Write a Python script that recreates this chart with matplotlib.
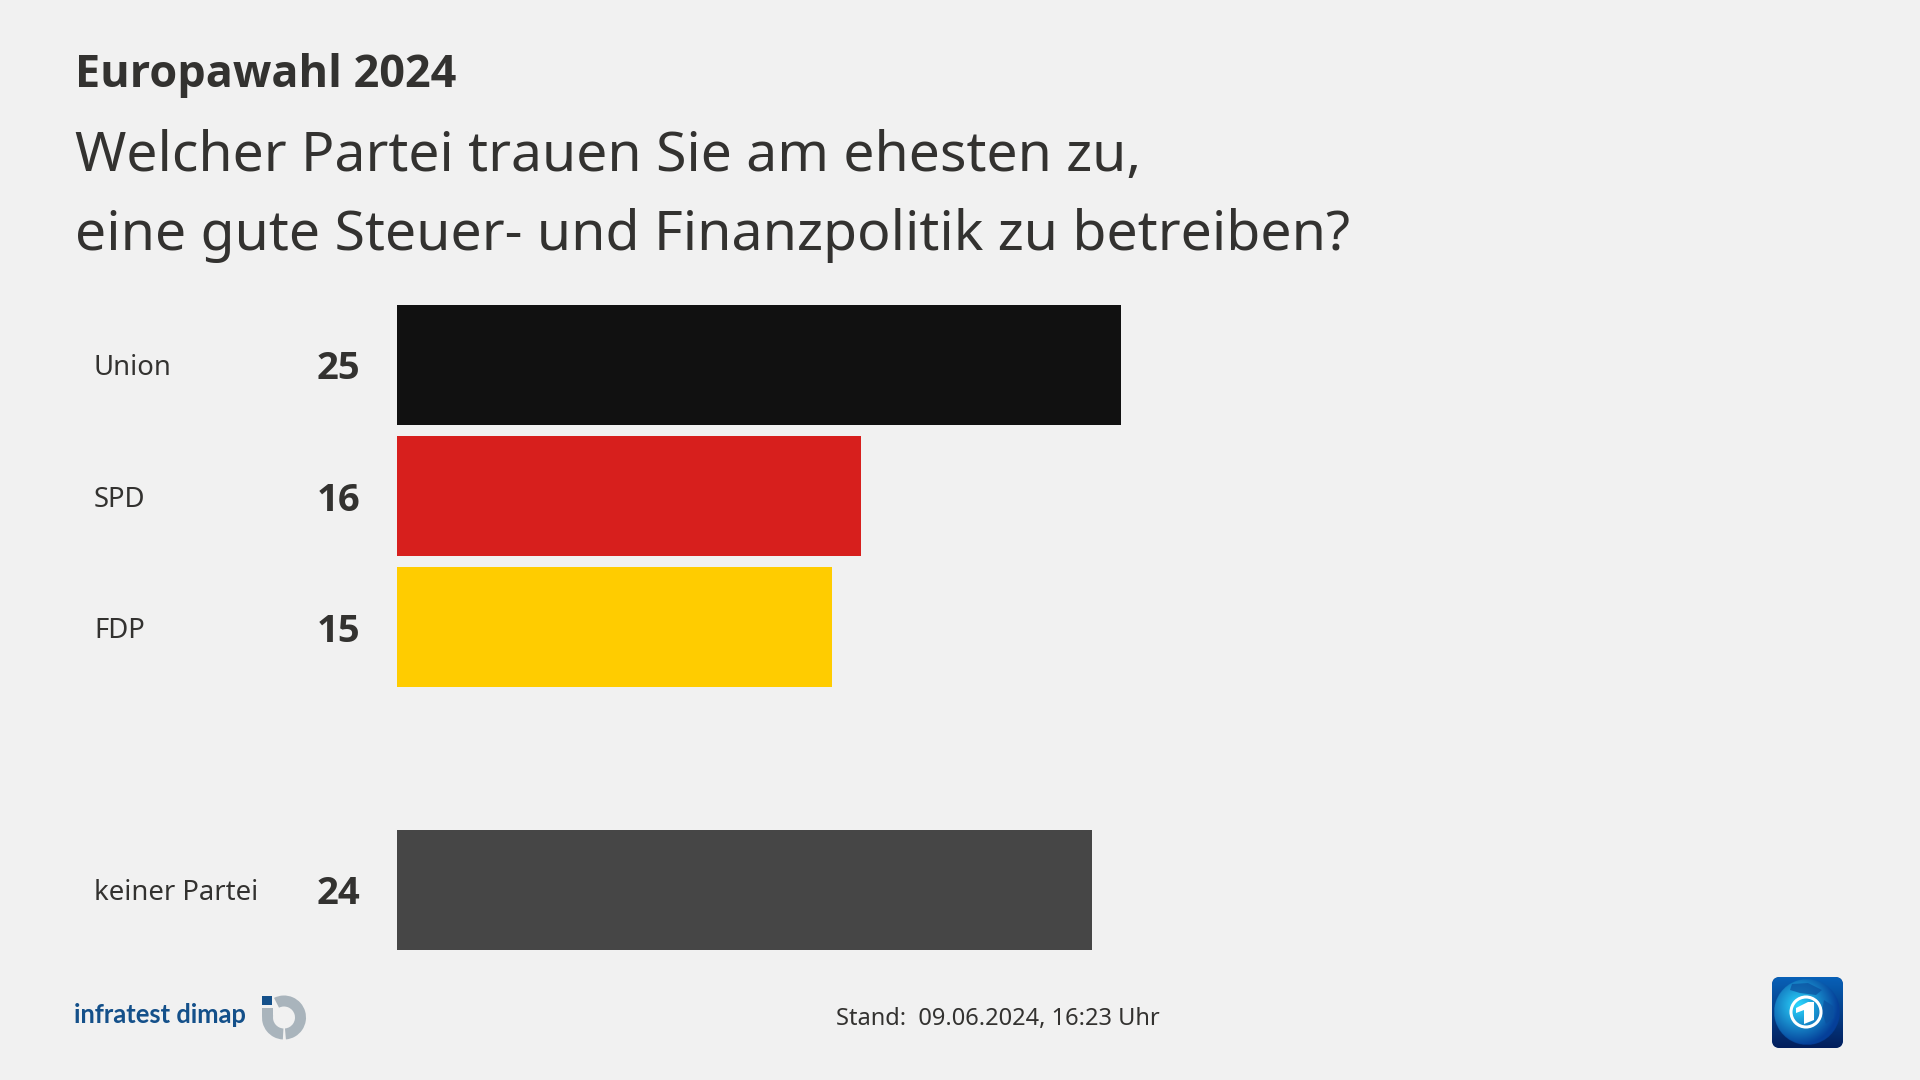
import numpy as np
import matplotlib
matplotlib.use('Agg')
import matplotlib.pyplot as plt
from matplotlib.patches import Wedge, Rectangle, FancyBboxPatch, Circle, Polygon

plt.rcParams['font.family'] = ['Noto Sans', 'DejaVu Sans']

parties = ['Union', 'SPD', 'FDP', 'keiner Partei']
values = [25, 16, 15, 24]
slots = [0, 1, 2, 4]
colors = ['#111111', '#d71f1d', '#ffcc00', '#464646']

kicker = 'Europawahl 2024'
title_lines = ['Welcher Partei trauen Sie am ehesten zu,',
               'eine gute Steuer- und Finanzpolitik zu betreiben?']
stand = 'Stand:  09.06.2024, 16:23 Uhr'

BG = '#f1f1f1'
TEXT = '#333230'
BOLD = ['Open Sans', 'DejaVu Sans']
W, H = 1920, 1080
PX = 0.72  # px to points at dpi 100

fig = plt.figure(figsize=(19.2, 10.8), dpi=100, facecolor=BG)

# overlay in pixel coordinates for the titles and logos
page = fig.add_axes([0, 0, 1, 1])
page.set_xlim(0, W)
page.set_ylim(H, 0)
page.axis('off')

page.text(75, 87, kicker, fontsize=32.4, fontweight='bold', color=TEXT, va='baseline', family=BOLD)
page.text(75, 171, title_lines[0], fontsize=39.8, color=TEXT, va='baseline')
page.text(75, 250, title_lines[1], fontsize=39.9, color=TEXT, va='baseline')
page.text(997.5, 1019.5, stand, fontsize=17, color=TEXT, ha='center', va='center')

# bars
ax = fig.add_axes([397 / W, (H - 955.5) / H, (W - 397) / W, 656.25 / H])
ax.patch.set_alpha(0)
ax.barh(slots, values, height=120 / 131.25, color=colors)
ax.set_xlim(0, (W - 397) / 28.97)
ax.set_ylim(4.5, -0.5)
ax.axis('off')

for party, value, slot in zip(parties, values, slots):
    ax.annotate(party, xy=(0, slot), xytext=(-303 * PX, 0), textcoords='offset points',
                fontsize=19.8, color=TEXT, ha='left', va='center_baseline')
    ax.annotate(str(value), xy=(0, slot), xytext=(-37 * PX, 0), textcoords='offset points',
                fontsize=27.5, fontweight='bold', color=TEXT, ha='right', va='center_baseline',
                family=BOLD)

# infratest dimap logo
page.text(74, 1015, 'infratest dimap', fontsize=18.4, fontweight='bold', color='#14508a',
          va='center', family=['Lato'])
grey = '#a9b4bc'
page.add_patch(Wedge((284, 1017.5), 22, -117, 85, width=11, color=grey, lw=0))
page.add_patch(Wedge((284, 1017.5), 22, 93, 190, width=11, color=grey, lw=0))
page.add_patch(Rectangle((262, 1008), 11, 8, color=grey, lw=0))
page.add_patch(Rectangle((262, 996), 10, 9, color='#14508a', lw=0))

# ard-tagesschau logo
box = FancyBboxPatch((1776, 981), 63, 63, boxstyle='round,pad=4,rounding_size=8',
                     facecolor='#0a3f8c', edgecolor='none')
page.add_patch(box)
yy, xx = np.mgrid[0:1:200j, 0:1:200j]
grad = np.dstack([0.01 + 0.02 * (1 - yy), 0.12 + 0.26 * (1 - yy), 0.36 + 0.36 * (1 - yy)])
im = page.imshow(grad, extent=(1772, 1843, 1048, 977), zorder=2, aspect='auto')
im.set_clip_path(box)
gy, gx = np.mgrid[-1:1:200j, -1:1:200j]
r = np.hypot(gx, gy)
shade = np.clip(1 - np.hypot(gx + 0.25, gy + 0.2) / 1.2, 0, 1)
globe = np.dstack([0.02 + 0.15 * shade, 0.25 + 0.6 * shade, 0.6 + 0.4 * shade, (r < 1).astype(float)])
page.imshow(globe, extent=(1774, 1840, 1045, 979), zorder=3, aspect='auto')
page.add_patch(Polygon([(1792, 984), (1808, 983), (1822, 990), (1816, 995), (1800, 993), (1790, 990)],
                       facecolor='#0b4f9e', edgecolor='none', alpha=0.7, zorder=3))
page.add_patch(Polygon([(1824, 1000), (1833, 1006), (1834, 1018), (1826, 1024), (1822, 1012)],
                       facecolor='#0b4f9e', edgecolor='none', alpha=0.7, zorder=3))
page.add_patch(Circle((1806, 1012), 15, facecolor='none', edgecolor='white', lw=2.2, zorder=4))
page.add_patch(Polygon([(1796, 1008), (1808, 1002), (1814, 1002), (1814, 1020), (1804, 1024),
                        (1804, 1010), (1796, 1013)], facecolor='white', edgecolor='none', zorder=4))
page.set_xlim(0, W)
page.set_ylim(H, 0)

fig.savefig('out.png', dpi=100, facecolor=BG)
